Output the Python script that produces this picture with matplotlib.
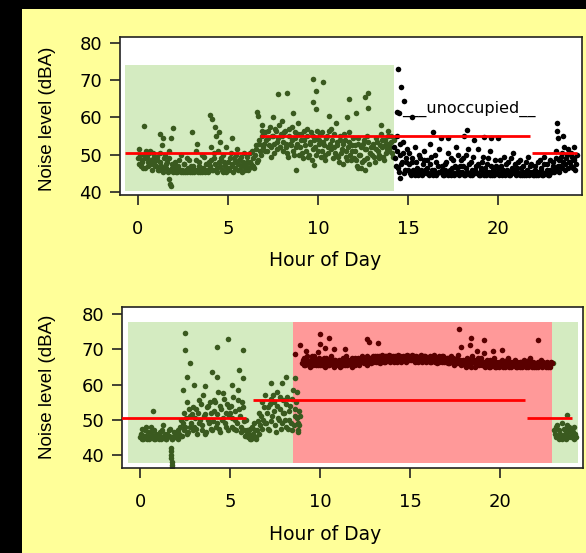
import numpy as np
import matplotlib.pyplot as plt
from matplotlib.patches import Rectangle

STEP = 1 / 12  # one reading every 5 minutes (two interleaved passes)

# ---- top panel: occupied then unoccupied ----
top_occ_start = 0.0
top_occ = [
    49, 51.5, 47, 48.5, 50, 46.5, 49.5, 48, 51, 47.5, 50.5, 48,
    47, 49.5, 46, 48, 52.5, 46.5, 50, 47.5, 45.5, 49, 54.5, 46.5,
    46, 48, 45.5, 47, 46, 50, 45.5, 47.5, 46, 45.5, 48.5, 46,
    45.5, 47, 46, 51, 45.5, 48, 46.5, 45.5, 49.5, 46, 47.5, 45.5,
    47, 52, 46, 49, 55, 46.5, 48, 53.5, 46, 50, 47, 45.5,
    48, 46, 50.5, 47, 49, 46.5, 51.5, 47.5, 46, 49.5, 48, 47,
    47, 49.5, 46.5, 48, 51, 47, 50, 52.5, 48.5, 53, 50, 55,
    53, 56, 51, 54.5, 57.5, 52, 55, 50.5, 56.5, 53.5, 58, 52,
    55, 51, 56.5, 53, 49.5, 57, 52.5, 54, 50, 56, 53, 58.5,
    52, 55.5, 49, 54, 51, 57, 50, 53.5, 48.5, 55, 52, 54.5,
    51, 54, 49.5, 56, 52.5, 48.5, 55, 50.5, 53, 57, 49, 52,
    50, 53.5, 48, 55, 51.5, 47.5, 54, 49.5, 52, 56, 48.5, 51,
    49, 52.5, 47, 54.5, 50, 46.5, 53, 48.5, 51.5, 55, 47.5, 50.5,
    50, 53, 48, 54.5, 51, 49, 55.5, 52, 48.5, 54, 51.5, 53,
    52, 55, 49.5,
]
top_occ_b = [
    47.5, 50, 48, 46.5, 49, 51, 47, 50.5, 48.5, 46, 49.5, 47,
    48.5, 46, 50.5, 47, 45.5, 49, 46.5, 48, 51, 46, 47.5, 45.5,
    47, 45.5, 46.5, 48.5, 45.5, 46, 47.5, 45.5, 49, 46.5, 45.5, 47,
    46.5, 45.5, 48.5, 46, 47, 45.5, 50, 46.5, 45.5, 47.5, 46, 48,
    48.5, 46, 50.5, 47.5, 45.5, 51, 47, 49, 45.5, 48, 52, 46.5,
    46.5, 49, 47.5, 45.5, 48, 50, 46, 48.5, 47, 45.5, 50.5, 46,
    48, 46, 50.5, 47.5, 49, 46.5, 51.5, 48, 54, 51, 56.5, 52,
    51, 54, 56.5, 52.5, 49.5, 55, 53, 57, 51.5, 54.5, 52, 55.5,
    53.5, 56, 52, 50.5, 55, 53, 57.5, 51, 54.5, 52, 55.5, 50,
    54, 50.5, 56.5, 52.5, 55, 49.5, 53, 56, 51.5, 54, 50, 56.5,
    53, 55.5, 51, 53.5, 50, 54.5, 52, 56.5, 51.5, 54, 55.5, 50.5,
    52.5, 49.5, 54, 50.5, 53, 55.5, 51, 48.5, 53.5, 50, 52.5, 54.5,
    51, 48.5, 53, 50, 52, 48, 54, 51.5, 49, 53.5, 50.5, 52,
    52, 49.5, 51.5, 53.5, 50, 52.5, 54, 49.5, 52.5, 50.5, 55, 51,
    53.5, 50.5, 54,
]
top_occ_spike_h = [0.33, 1.2, 1.4, 1.95, 1.8, 1.85, 1.75, 3.0, 3.3, 4.0, 4.1, 4.3,
                   4.5, 5.2, 6.6, 6.65, 6.9, 7.8, 8.3, 8.6, 9.7, 10.3, 9.9, 9.7,
                   9.9, 11.7, 12.6, 12.8, 12.8, 12.1, 11.6, 7.5, 8.0, 10.6, 11.0,
                   13.5, 13.9, 8.8, 9.8, 12.2, 12.6]
top_occ_spike_v = [57.7, 55.5, 54.5, 57.2, 42.1, 41.5, 43.5, 56, 53, 60.6, 59.5, 57.5,
                   56, 54.5, 61.5, 60.5, 58, 66.3, 66.5, 61.2, 70.3, 69.5, 67, 64.2,
                   62.3, 65, 65.5, 66.6, 62.5, 61.2, 60.2, 60, 59, 60.5, 58.5,
                   58, 56.5, 45.9, 47.2, 46.4, 45.9]

top_unocc_start = 14.25
top_unocc = [
    52, 47, 55, 45.5, 50, 48, 53.5, 46, 49,
    46, 50.5, 44.5, 48, 45.5, 52, 46.5, 44.5, 49, 45, 47.5, 51,
    45, 48.5, 44.5, 53, 46, 45, 50, 44.5, 47, 45.5, 54.5, 46,
    44.5, 47.5, 45, 50.5, 46, 44.5, 48.5, 45, 52, 46.5, 44.5, 47,
    45.5, 49, 44.5, 46.5, 51.5, 45, 48, 44.5, 54, 46, 45, 47.5,
    44.5, 46.5, 49.5, 45, 44.5, 47.5, 45.5, 51, 44.5, 46, 48.5, 45,
    45, 44.5, 47, 45.5, 49.5, 44.5, 46, 48, 44.5, 45.5, 50.5, 46,
    44.5, 46.5, 45, 48.5, 44.5, 47, 45, 44.5, 49.5, 45.5, 47.5, 45,
    44.5, 47, 45.5, 44.5, 48.5, 46, 44.5, 49.5, 45, 47.5, 44.5, 46,
    45.5, 48, 46, 51, 47, 45.5, 49.5, 46.5, 52, 47.5, 50, 46.5,
    48, 50.5, 46.5, 49, 47.5,
]
top_unocc_b = [
    49, 51, 46.5, 53, 47.5, 50.5, 45, 48, 51.5,
    47.5, 45, 49, 46, 44.5, 48, 45.5, 50, 46, 44.5, 48.5, 46,
    46.5, 45, 47.5, 49.5, 44.5, 46, 48, 45, 51.5, 45.5, 47, 44.5,
    46, 48, 44.5, 45.5, 49, 46.5, 44.5, 47, 45, 50, 45.5, 48.5,
    47, 44.5, 50, 45.5, 47.5, 44.5, 46, 49.5, 45, 47, 51.5, 44.5,
    46, 48, 44.5, 46.5, 45.5, 49, 44.5, 47, 45.5, 44.5, 47, 46.5,
    46.5, 48.5, 44.5, 46, 45, 47.5, 45.5, 44.5, 49, 46.5, 45, 47.5,
    45.5, 48, 44.5, 46.5, 45.5, 44.5, 48, 46, 44.5, 47, 45.5, 44.5,
    46, 44.5, 48, 45, 46.5, 44.5, 47.5, 45, 46, 44.5, 48.5, 45.5,
    47, 45.5, 49, 46.5, 48.5, 47, 50.5, 48, 46, 49, 51.5, 48,
    47, 49.5, 48.5, 46, 50,
]
top_unocc_spike_h = [14.45, 14.6, 14.8, 14.4, 14.5, 15.2, 14.55, 16.4, 18.3, 18.1,
                     17.2, 19.2, 19.6, 20.0, 23.3, 23.3, 23.35, 23.6, 24.2]
top_unocc_spike_v = [73.0, 68.2, 64.4, 61.5, 61.3, 60.1, 43.8, 56.1, 56.6, 55,
                     54.5, 54.8, 54.5, 54.5, 58.5, 56.4, 54.5, 55, 52]

top_mean_from = [-0.7, 6.8, 21.9]
top_mean_to = [6.3, 21.8, 24.4]
top_mean = [50.5, 55.0, 50.5]

# ---- bottom panel: morning, occupied block, night ----
bot_morn_start = 0.0
bot_morn = [
    45, 47.5, 44.5, 45.5, 48, 45, 44.5, 46.5, 45, 47, 44.5, 45.5,
    45, 46.5, 44.5, 48.5, 45, 44.5, 46, 45.5, 47.5, 44.5, 45, 46,
    45, 47, 46, 50, 45.5, 52, 48, 55, 46.5, 51, 49, 53.5,
    48, 53, 46, 55.5, 50, 47, 57, 51.5, 46.5, 54, 49, 52,
    47, 52.5, 55, 49, 58, 46.5, 53, 50.5, 56, 48, 54.5, 51,
    52, 48, 56.5, 50, 47, 58.5, 53, 46.5, 55, 49.5, 45.5, 47,
    45, 47.5, 44.5, 46, 49, 45, 47, 52, 48.5, 55, 50, 57,
    49, 53.5, 47, 56, 51, 55, 48.5, 58, 50.5, 53, 47.5, 55.5,
    52, 48, 56.5, 50, 54, 47, 58.5, 51, 55, 49, 52.5,
]
bot_morn_b = [
    46, 44.5, 45.5, 47, 44.5, 46.5, 45, 48, 45.5, 44.5, 46, 45,
    44.5, 45.5, 47, 45, 46, 44.5, 45.5, 47, 45, 44.5, 46.5, 45,
    46.5, 44.5, 48, 45.5, 49, 47, 50.5, 46, 53, 48, 51.5, 47,
    50.5, 47.5, 52, 49, 54.5, 48.5, 51, 46, 53.5, 50, 55, 47.5,
    49.5, 55.5, 48, 51.5, 47.5, 54, 50, 57.5, 49, 52, 47, 53.5,
    54, 50.5, 47.5, 52.5, 49, 55.5, 51, 48, 53.5, 47, 50, 46,
    46, 44.5, 48, 45.5, 47, 44.5, 49.5, 46, 51, 47.5, 53.5, 49,
    52, 47.5, 54.5, 49.5, 57, 52.5, 46.5, 54, 50, 56.5, 49, 52,
    50, 54.5, 47.5, 52.5, 49, 56, 48.5, 53, 50.5, 47, 51,
]
bot_morn_spike_h = [0.74, 1.7, 1.7, 1.72, 1.73, 1.75, 1.77, 1.78, 2.5, 2.5, 2.8,
                    2.6, 2.4, 3.0, 4.3, 4.9, 5.7, 4.0, 4.3, 5.5, 5.7, 5.1, 3.6,
                    7.3, 8.1, 7.9, 8.6, 8.7, 8.8, 8.85, 22.95, 23.7]
bot_morn_spike_v = [52.6, 42, 41, 40, 39, 38, 37.2, 36.6, 74.6, 69.8, 66.1,
                    62.1, 58.5, 60, 70.6, 72.9, 69.8, 63.5, 62.2, 64.1, 61.9, 60, 59.5,
                    60.4, 62.2, 60.5, 61.8, 58, 46.5, 48.5, 66.2, 51.4]

bot_busy_start = 9.0
bot_busy = [
    66, 67.5, 65.5, 68, 66.5, 65, 67, 66, 68, 65.5, 67, 66,
    65.5, 67, 66, 65, 67.5, 66, 65.5, 68, 66.5, 65, 67, 66,
    66, 65, 67, 65.5, 66.5, 68, 65.5, 66, 67, 65, 66.5, 67.5,
    66, 67.5, 65.5, 66.5, 68, 66, 67, 65.5, 66.5, 67.5, 66, 68,
    67, 66.5, 68, 67, 66, 68.5, 67.5, 66.5, 68, 67, 68.5, 67,
    67.5, 66.5, 68, 67, 68.5, 67, 66.5, 68, 67.5, 66.5, 68.5, 67,
    67.5, 68.5, 67, 66.5, 68, 67.5, 67, 68.5, 66.5, 67.5, 68, 67,
    67, 68, 66.5, 67.5, 68.5, 67, 66, 68, 67.5, 66.5, 68, 67,
    66.5, 67.5, 66, 68, 66.5, 65.5, 67, 66, 68.5, 66.5, 65.5, 67,
    66, 65, 67.5, 66, 65.5, 68, 66.5, 65, 67, 66, 65.5, 67.5,
    65.5, 66.5, 65, 67, 66, 65, 66.5, 65.5, 67.5, 65, 66, 66.5,
    65.5, 67, 65, 66, 65.5, 67.5, 65, 66.5, 65.5, 66, 67, 65,
    66, 65, 66.5, 65.5, 67, 65, 66, 65.5, 67.5, 65, 66.5, 65.5,
    65, 66.5, 65.5, 67, 65, 66, 65.5, 66.5, 65, 66, 66.5,
]
bot_busy_b = [
    67, 65.5, 66.5, 67, 65.5, 66.5, 68, 65.5, 67, 66.5, 65.5, 67.5,
    66.5, 65.5, 67.5, 66, 66.5, 65.5, 67, 66, 65.5, 67, 65.5, 66.5,
    67, 66, 65.5, 67.5, 65.5, 66.5, 67, 66.5, 65.5, 67.5, 66, 65.5,
    67, 66, 66.5, 67.5, 66.5, 67, 66, 68, 67, 66.5, 67.5, 66.5,
    68, 67.5, 66.5, 68, 67, 67.5, 66.5, 68, 67, 67.5, 66.5, 68,
    68, 67, 67.5, 66.5, 67.5, 68, 67, 67.5, 68, 67, 67.5, 68,
    67, 67.5, 68, 67.5, 67, 66.5, 68, 67, 67.5, 68, 66.5, 67.5,
    67.5, 66.5, 67.5, 68, 66.5, 67.5, 67, 66.5, 67, 68, 66.5, 67.5,
    67.5, 66, 67, 66.5, 67.5, 66, 66.5, 67.5, 66, 67, 66, 66.5,
    65.5, 66.5, 66, 67, 65, 66.5, 67, 66, 65.5, 67.5, 66.5, 66,
    66, 65.5, 66.5, 65.5, 65, 67, 65.5, 66, 65, 66.5, 65.5, 65,
    66, 65.5, 66.5, 65, 67, 66, 65.5, 65, 66.5, 65.5, 65, 66.5,
    65.5, 66.5, 65, 66, 65.5, 66.5, 65, 67, 65.5, 66, 65, 66,
    66, 65, 66, 65.5, 66.5, 65.5, 65, 66, 65.5, 65, 66,
]
bot_busy_spike_h = [8.6, 8.9, 9.2, 10.0, 10.5, 10.0, 10.3, 10.8, 11.4, 9.9, 12.6,
                    13.2, 12.7, 17.7, 18.4, 19.1, 18.3, 17.8, 19.1, 20.1, 22.1,
                    19.6, 18.7]
bot_busy_spike_v = [68.6, 71.2, 69.5, 74.3, 73.2, 71.6, 70.5, 70.1, 70.1, 69.2, 72.9,
                    71.8, 72.2, 75.7, 73.2, 72.6, 71.2, 70.6, 68.9, 69.8, 72.6,
                    69.5, 69.5]

bot_night_start = 23.0
bot_night = [47, 45, 48.5, 44.5, 46, 49, 45.5, 47.5, 44.5, 46.5, 48, 45,
             47, 44.5, 46]
bot_night_b = [46, 48, 45, 47, 45.5, 44.5, 47.5, 46, 48.5, 45, 47, 45.5,
               46.5, 48, 45]

bot_mean_from = [-1.2, 6.3, 21.5]
bot_mean_to = [5.9, 21.4, 24.0]
bot_mean = [50.5, 55.6, 50.5]

GREEN = "#3a5a1f"
DARK_RED = "#5a0000"
FILL_GREEN = "#d4ebc1"
FILL_RED = "#ff9999"
YELLOW = "#ffff99"
DOT = 16


def times(start, vals, shift=0.0):
    return start + shift + np.arange(len(vals)) * STEP


def dots(ax, start, first, second, color):
    ax.scatter(times(start, first), first, s=DOT, c=color, lw=0, zorder=2)
    ax.scatter(times(start, second, STEP / 2), second, s=DOT, c=color, lw=0, zorder=2)


def style_axes(ax, xlim, ylim):
    ax.set_zorder(2)
    ax.set_facecolor("white")
    ax.set_xlim(*xlim)
    ax.set_ylim(*ylim)
    ax.set_xticks([0, 5, 10, 15, 20])
    ax.set_yticks([40, 50, 60, 70, 80])
    for s in ax.spines.values():
        s.set_linewidth(1.2)
        s.set_color("#222222")
    ax.tick_params(axis="both", direction="out", length=7, width=1.2,
                   labelsize=13, color="#222222")
    ax.tick_params(axis="x", pad=11)
    ax.tick_params(axis="y", pad=6)


fig = plt.figure(figsize=(5.86, 5.53), dpi=100, facecolor="black")
fig.patches.append(Rectangle((22 / 586, 0), 1, 1 - 9 / 553, transform=fig.transFigure,
                             facecolor=YELLOW, edgecolor="none", zorder=-5))

# top
ax1 = fig.add_axes([120 / 586, (553 - 195) / 553, 462 / 586, 158 / 553])
style_axes(ax1, (-1.0, 24.67), (39.2, 81.6))
ax1.add_patch(Rectangle((-0.72, 40.3), 14.92, 33.8, facecolor=FILL_GREEN,
                        edgecolor="none", zorder=0))
dots(ax1, top_occ_start, top_occ, top_occ_b, GREEN)
ax1.scatter(top_occ_spike_h, top_occ_spike_v, s=DOT, c=GREEN, lw=0, zorder=2)
dots(ax1, top_unocc_start, top_unocc, top_unocc_b, "black")
ax1.scatter(top_unocc_spike_h, top_unocc_spike_v, s=DOT, c="black", lw=0, zorder=2)
ax1.hlines(top_mean, top_mean_from, top_mean_to, colors="red", lw=2, zorder=3)
ax1.text(14.67, 61.2, "___unoccupied__", fontsize=11.5, va="baseline", ha="left")

# bottom
ax2 = fig.add_axes([122 / 586, (553 - 468) / 553, 461 / 586, 161 / 553])
style_axes(ax2, (-1.0, 24.6), (36.3, 82.0))
ax2.add_patch(Rectangle((-0.67, 37.6), 9.17, 40.1, facecolor=FILL_GREEN,
                        edgecolor="none", zorder=0))
ax2.add_patch(Rectangle((8.5, 37.6), 14.4, 40.1, facecolor=FILL_RED,
                        edgecolor="none", zorder=0))
ax2.add_patch(Rectangle((22.9, 37.6), 1.4, 40.1, facecolor=FILL_GREEN,
                        edgecolor="none", zorder=0))
dots(ax2, bot_morn_start, bot_morn, bot_morn_b, GREEN)
ax2.scatter(bot_morn_spike_h, bot_morn_spike_v, s=DOT, c=GREEN, lw=0, zorder=2)
dots(ax2, bot_busy_start, bot_busy, bot_busy_b, DARK_RED)
ax2.scatter(bot_busy_spike_h, bot_busy_spike_v, s=DOT, c=DARK_RED, lw=0, zorder=2)
dots(ax2, bot_night_start, bot_night, bot_night_b, GREEN)
ax2.hlines(bot_mean, bot_mean_from, bot_mean_to, colors="red", lw=2, zorder=3)

# labels
for yc in (118.5, 387):
    fig.text(48 / 586, 1 - yc / 553, "Noise level (dBA)", rotation=90,
             ha="center", va="center", fontsize=13.5, family="Liberation Sans")
for yc in (260, 535):
    fig.text(325 / 586, 1 - yc / 553, "Hour of Day", ha="center", va="center",
             fontsize=13.5)

fig.savefig("out.png", dpi=100, facecolor=fig.get_facecolor())
